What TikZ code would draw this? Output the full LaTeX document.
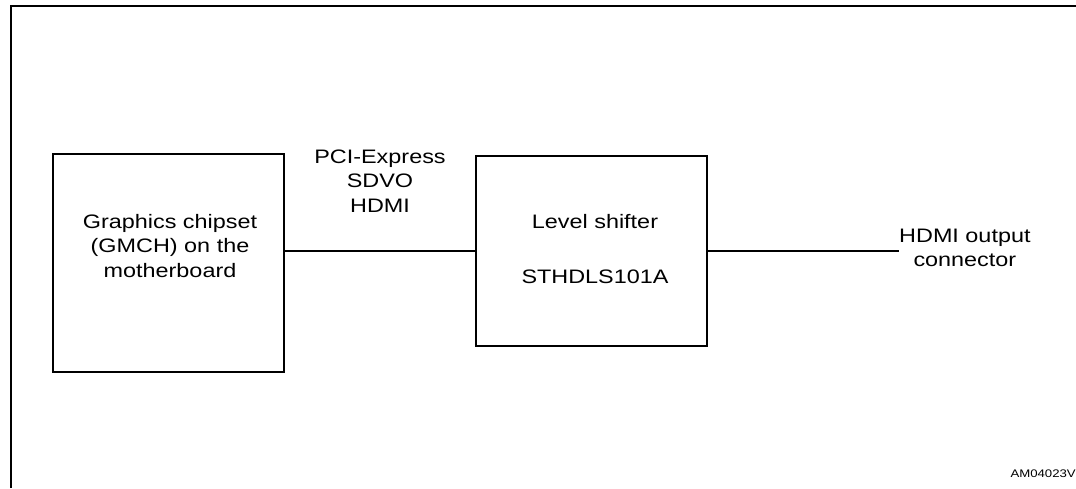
\documentclass[tikz,border=0pt]{standalone}
\usepackage{fontspec}
\setmainfont[FakeStretch=1.2]{Liberation Sans}
\begin{document}
\begin{tikzpicture}[x=1pt,y=-1pt,
  blk/.style={draw,line width=2pt,inner sep=0pt},
  txt/.style={font=\fontsize{19.5}{24.5}\selectfont,align=center,inner sep=0pt},
  wire/.style={line width=1.3pt}]
\useasboundingbox (0,0) rectangle (1076,488);
% frame (clipped at right and bottom)
\draw[line width=2.6pt] (11,488) -- (11,6) -- (1076,6);
% boxes
\node[blk,minimum width=231pt,minimum height=218pt] (gmch) at (168.5,263) {};
\node[blk,minimum width=231pt,minimum height=190pt] (ls) at (591.5,251) {};
% texts
\node[txt] (gtxt) at (170,246) {Graphics chipset\\(GMCH) on the\\motherboard};
\node[txt] (lstxt) at (595,222) {Level shifter};
\node[txt] (lsid) at (595,277) {STHDLS101A};
\node[txt] (bus) at (380,181) {PCI-Express\\SDVO\\HDMI};
\node[txt,anchor=west] (out) at (899,248) {HDMI output\\connector};
\node[font=\fontsize{11}{13}\selectfont,inner sep=0pt,anchor=east] (ref) at (1076,474) {AM04023V};
% connectors
\draw[wire] (ls.west) -- (ls.west -| gmch.east);
\draw[wire] (ls.east) -- (ls.east -| out.west);
\end{tikzpicture}
\end{document}
